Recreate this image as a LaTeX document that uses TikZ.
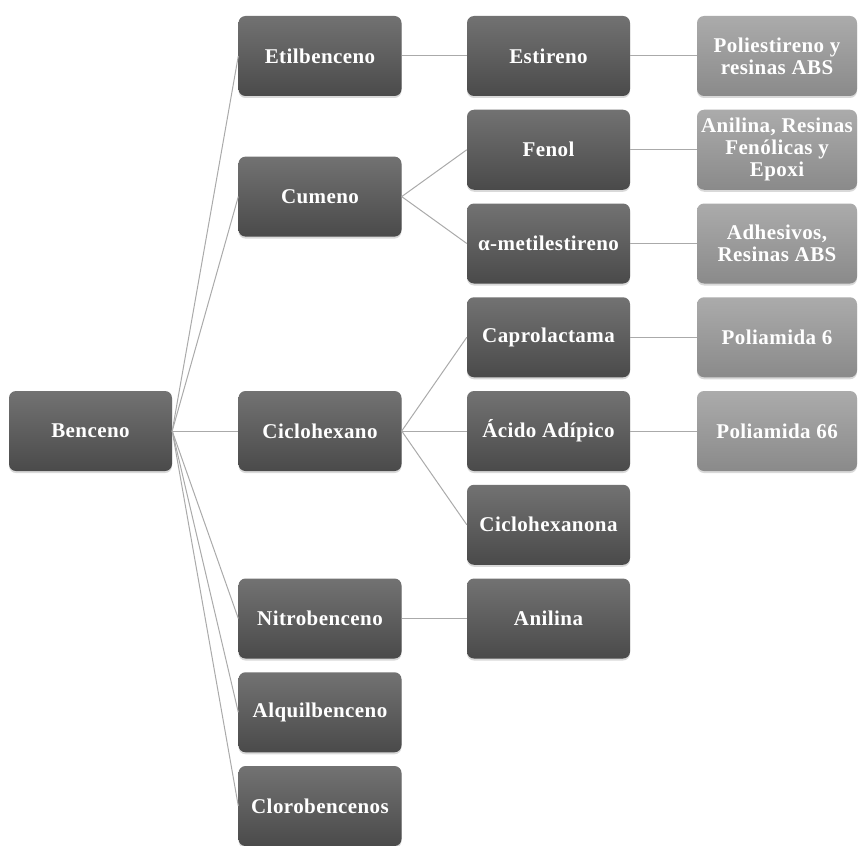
\documentclass[tikz,border=0pt]{standalone}
\usepackage{fontspec}
\setmainfont{Liberation Serif}
\newfontfamily\boxfont{Liberation Serif}[LetterSpace=2]
\usetikzlibrary{shadows}
\definecolor{boxtop}{HTML}{727272}
\definecolor{boxbot}{HTML}{4A4A4A}
\definecolor{ltop}{HTML}{ABABAB}
\definecolor{lbot}{HTML}{8A8A8A}
\definecolor{linec}{HTML}{AAAAAA}
\begin{document}
\begin{tikzpicture}[x=1pt,y=-1pt,
  box/.style={rounded corners=7pt, minimum width=163pt, minimum height=80pt,
    top color=boxtop, bottom color=boxbot, draw=none, text=white,
    font=\boxfont\bfseries\fontsize{21}{22}\selectfont, align=center, inner sep=0pt,
    drop shadow={opacity=0.3, shadow xshift=0pt, shadow yshift=-2pt}},
  lbox/.style={box, top color=ltop, bottom color=lbot, minimum width=160pt},
  link/.style={draw=linec, line width=1pt}]
\useasboundingbox (0,0) rectangle (858,845);
% rows
\def\ra{56}\def\rb{149.75}\def\rc{243.5}\def\rd{337.25}\def\re{431}
\def\rf{524.75}\def\rg{618.5}\def\rh{712.25}\def\ri{806}
% column 0
\node[box] (ben) at (90.5,\re) {Benceno};
% column 1
\node[box] (eti) at (320,\ra) {Etilbenceno};
\node[box] (cum) at (320,196.6) {Cumeno};
\node[box] (cic) at (320,\re) {Ciclohexano};
\node[box] (nit) at (320,\rg) {Nitrobenceno};
\node[box] (alq) at (320,\rh) {Alquilbenceno};
\node[box] (clo) at (320,\ri) {Clorobencenos};
% column 2
\node[box] (est) at (548.5,\ra) {Estireno};
\node[box] (fen) at (548.5,\rb) {Fenol};
\node[box] (ame) at (548.5,\rc) {α-metilestireno};
\node[box] (cap) at (548.5,\rd) {Caprolactama};
\node[box] (aci) at (548.5,\re) {Ácido Adípico};
\node[box] (cin) at (548.5,\rf) {Ciclohexanona};
\node[box] (ani) at (548.5,\rg) {Anilina};
% column 3
\node[lbox] (pol) at (777,\ra) {Poliestireno y\\resinas ABS};
\node[lbox] (res) at (777,\rb) {Anilina, Resinas\\Fenólicas y\\Epoxi};
\node[lbox] (adh) at (777,\rc) {Adhesivos,\\Resinas ABS};
\node[lbox] (p6) at (777,\rd) {Poliamida 6};
\node[lbox] (p66) at (777,\re) {Poliamida 66};
% connectors
\foreach \t in {eti,cum,cic,nit,alq,clo} \draw[link] (ben.east) -- (\t.west);
\foreach \t in {fen,ame} \draw[link] (cum.east) -- (\t.west);
\foreach \t in {cap,aci,cin} \draw[link] (cic.east) -- (\t.west);
\draw[link] (eti.east) -- (est.west);
\draw[link] (nit.east) -- (ani.west);
\draw[link] (est.east) -- (pol.west);
\draw[link] (fen.east) -- (res.west);
\draw[link] (ame.east) -- (adh.west);
\draw[link] (cap.east) -- (p6.west);
\draw[link] (aci.east) -- (p66.west);
\end{tikzpicture}
\end{document}
